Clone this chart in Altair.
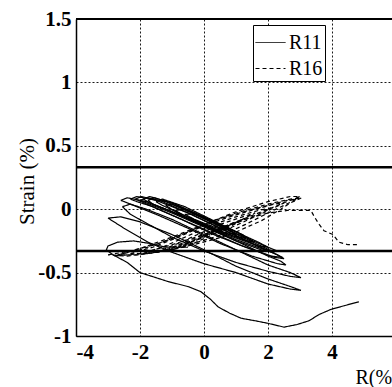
import altair as alt
import pandas as pd

# ---------------- data ----------------
x_ticks = [-4, -2, 0, 2, 4, 6]
y_ticks = [-1, -0.5, 0, 0.5, 1, 1.5]
limit_lines = [0.33, -0.33]
top_frame = [1.5]

# R11 (solid) loops: left tip -> upper edge -> right tip -> lower edge -> left tip
r11_b = [(-0.6, -0.04), (-0.3, -0.04), (0.3, -0.10), (0.7, -0.17), (0.3, -0.14), (-0.3, -0.08), (-0.6, -0.04)]
r11_c = [(-0.9, -0.01), (-0.6, 0.00), (0.0, -0.07), (0.7, -0.15), (1.0, -0.20), (0.6, -0.18), (-0.1, -0.11), (-0.7, -0.04), (-0.9, -0.01)]
r11_d = [(-1.2, 0.03), (-1.0, 0.04), (-0.3, -0.03), (0.5, -0.12), (1.1, -0.19), (1.3, -0.23), (0.9, -0.21), (0.1, -0.14), (-0.7, -0.05), (-1.2, 0.03)]
r11_e = [(-1.5, 0.06), (-1.3, 0.08), (-0.6, 0.02), (0.3, -0.09), (1.2, -0.20), (1.56, -0.26), (1.2, -0.24), (0.3, -0.15), (-0.6, -0.05), (-1.3, 0.03), (-1.5, 0.06)]
r11_f = [(-1.75, 0.07), (-1.55, 0.09), (-0.9, 0.04), (0.0, -0.06), (1.0, -0.18), (1.7, -0.26), (2.0, -0.30), (1.7, -0.29), (0.8, -0.21), (-0.2, -0.11), (-1.1, -0.01), (-1.6, 0.04), (-1.75, 0.07)]
r11_f2 = [(-1.9, 0.08), (-1.7, 0.10), (-1.0, 0.05), (0.0, -0.07), (1.0, -0.19), (1.9, -0.29), (2.3, -0.33), (1.9, -0.32), (1.0, -0.24), (0.0, -0.13), (-1.0, -0.02), (-1.7, 0.05), (-1.9, 0.08)]
r11_g = [(-2.0, 0.07), (-1.8, 0.09), (-1.2, 0.06), (-0.3, -0.04), (0.7, -0.16), (1.7, -0.28), (2.2, -0.34), (1.9, -0.33), (1.0, -0.25), (0.0, -0.14), (-1.0, -0.03), (-1.7, 0.04), (-2.0, 0.07)]
r11_g2 = [(-2.15, 0.08), (-1.95, 0.10), (-1.3, 0.06), (-0.4, -0.04), (0.6, -0.16), (1.6, -0.28), (2.2, -0.35), (2.45, -0.38), (2.1, -0.37), (1.2, -0.29), (0.2, -0.18), (-0.8, -0.07), (-1.7, 0.03), (-2.15, 0.08)]
r11_h = [(-2.3, 0.08), (-2.1, 0.10), (-1.5, 0.07), (-0.5, -0.03), (0.5, -0.15), (1.5, -0.27), (2.3, -0.36), (2.5, -0.39), (2.2, -0.38), (1.3, -0.30), (0.3, -0.20), (-0.7, -0.08), (-1.6, 0.02), (-2.1, 0.06), (-2.3, 0.08)]
r11_i = [(-2.6, 0.07), (-2.4, 0.09), (-1.8, 0.06), (-1.0, -0.02), (0.0, -0.13), (1.0, -0.25), (2.0, -0.37), (2.4, -0.41), (2.56, -0.44), (2.3, -0.43), (1.5, -0.37), (0.5, -0.27), (-0.5, -0.15), (-1.5, -0.04), (-2.2, 0.03), (-2.6, 0.07)]
r11_j = [(-2.55, 0.02), (-2.3, 0.04), (-1.8, 0.00), (-1.0, -0.08), (0.0, -0.20), (1.0, -0.32), (2.0, -0.44), (2.7, -0.50), (3.03, -0.54), (2.7, -0.53), (2.0, -0.49), (1.0, -0.42), (0.0, -0.33), (-1.0, -0.22), (-1.8, -0.11), (-2.3, -0.04), (-2.55, 0.02)]
r11_k = [(-3.0, -0.07), (-2.6, -0.06), (-2.0, -0.10), (-1.0, -0.20), (0.0, -0.32), (1.0, -0.45), (2.0, -0.55), (2.7, -0.61), (3.03, -0.64), (2.7, -0.63), (2.0, -0.59), (1.0, -0.50), (0.0, -0.43), (-1.0, -0.34), (-1.75, -0.26), (-2.5, -0.15), (-3.0, -0.07)]
r11_end = [(-0.5, -0.30), (-1.2, -0.30), (-1.7, -0.27), (-2.2, -0.25), (-2.7, -0.26), (-3.0, -0.29), (-3.05, -0.32),
           (-2.95, -0.34), (-2.84, -0.36), (-2.4, -0.42), (-2.0, -0.50), (-1.5, -0.54), (-1.13, -0.57), (-0.5, -0.61),
           (-0.1, -0.65), (0.2, -0.71), (0.44, -0.77), (0.8, -0.82), (1.16, -0.86), (1.6, -0.88), (2.0, -0.90),
           (2.5, -0.93), (2.9, -0.91), (3.28, -0.88), (3.6, -0.83), (3.97, -0.79), (4.4, -0.76), (4.84, -0.73)]

# R16 (dashed) loops
r16_p = [(-1.0, -0.32), (-0.5, -0.27), (0.2, -0.19), (0.8, -0.12), (1.1, -0.10), (0.7, -0.15), (0.1, -0.22), (-0.5, -0.29), (-1.0, -0.32)]
r16_q = [(-1.5, -0.34), (-0.9, -0.28), (-0.2, -0.20), (0.5, -0.12), (1.2, -0.06), (1.6, -0.03), (1.2, -0.08), (0.5, -0.16), (-0.2, -0.24), (-0.9, -0.31), (-1.5, -0.34)]
r16_r = [(-1.9, -0.35), (-1.3, -0.30), (-0.5, -0.21), (0.3, -0.12), (1.0, -0.06), (1.7, -0.01), (2.1, 0.01), (1.7, -0.04), (1.0, -0.11), (0.3, -0.18), (-0.5, -0.26), (-1.3, -0.33), (-1.9, -0.35)]
r16_s = [(-2.3, -0.35), (-1.6, -0.30), (-0.8, -0.22), (0.0, -0.13), (0.8, -0.06), (1.6, 0.00), (2.2, 0.04), (2.5, 0.05), (2.1, 0.00), (1.5, -0.07), (0.8, -0.15), (0.0, -0.22), (-0.9, -0.30), (-1.7, -0.35), (-2.3, -0.35)]
r16_t = [(-2.7, -0.36), (-2.0, -0.32), (-1.2, -0.25), (-0.4, -0.17), (0.3, -0.09), (1.1, -0.03), (2.0, 0.03), (2.6, 0.07), (2.9, 0.08), (2.5, 0.03), (2.0, -0.03), (1.3, -0.12), (0.6, -0.20), (-0.2, -0.26), (-1.2, -0.33), (-2.1, -0.36), (-2.7, -0.36)]
r16_v = [(-2.8, -0.37), (-2.0, -0.31), (-1.0, -0.22), (0.0, -0.12), (1.0, -0.02), (2.0, 0.06), (2.7, 0.10), (3.0, 0.10), (2.6, 0.06), (2.0, 0.00), (1.0, -0.10), (0.0, -0.20), (-1.0, -0.28), (-2.0, -0.35), (-2.8, -0.37)]
r16_u = [(-3.0, -0.36), (-2.3, -0.33), (-1.4, -0.27), (-0.5, -0.18), (0.2, -0.10), (1.0, -0.03), (2.0, 0.04), (2.7, 0.08), (3.05, 0.09), (2.7, 0.05), (2.4, 0.00), (1.8, -0.09), (1.0, -0.18), (0.3, -0.24), (-0.5, -0.29), (-1.5, -0.34), (-2.4, -0.37), (-3.0, -0.36)]
r16_end = [(-1.0, -0.30), (0.0, -0.20), (1.0, -0.10), (2.0, -0.03), (2.6, -0.01), (3.0, -0.01), (3.34, -0.01), (3.45, -0.06),
           (3.6, -0.12), (3.75, -0.17), (4.03, -0.20), (4.22, -0.26), (4.5, -0.28), (4.84, -0.28)]

series_loops = {
    "R11": [r11_b, r11_c, r11_d, r11_e, r11_f, r11_f2, r11_g, r11_g2, r11_h, r11_i, r11_j, r11_k, r11_end],
    "R16": [r16_p, r16_q, r16_r, r16_s, r16_t, r16_v, r16_u, r16_end],
}

rows = []
for name, loops in series_loops.items():
    for li, loop in enumerate(loops):
        for pi, (xv, yv) in enumerate(loop):
            rows.append({"series": name, "seg": f"{name}-{li}", "idx": pi, "x": xv, "y": yv})
df = pd.DataFrame(rows)

SERIF = "Liberation Serif"

x_scale = alt.Scale(domain=[-4, 5.875], nice=False, zero=False)
y_scale = alt.Scale(domain=[-1, 1.5], nice=False, zero=False)

lines = alt.Chart(df).mark_line(strokeWidth=1.2, color="black").encode(
    x=alt.X("x:Q", scale=x_scale,
            axis=alt.Axis(values=x_ticks, title="R(%)", labelExpr="'' + datum.value",
                          titleX=279, titleY=41, titleAlign="left", titleBaseline="middle",
                          titleAnchor="start")),
    y=alt.Y("y:Q", scale=y_scale,
            axis=alt.Axis(values=y_ticks, title="Strain (%)", labelExpr="'' + datum.value",
                          titleX=-49, titleY=162, titleAngle=-90, titleAlign="center",
                          titleBaseline="middle")),
    strokeDash=alt.StrokeDash(
        "series:N",
        scale=alt.Scale(domain=["R11", "R16"], range=[[1, 0], [4, 3]]),
        legend=alt.Legend(title=None, orient="none", legendX=177, legendY=6,
                          strokeColor="black", fillColor="white", padding=2,
                          symbolType="stroke", symbolSize=900, symbolStrokeWidth=1,
                          symbolStrokeColor="black", labelFont=SERIF, labelFontSize=20,
                          labelColor="black", rowPadding=-14, labelOffset=3),
    ),
    detail="seg:N",
    order="idx:Q",
)

limits = alt.Chart(pd.DataFrame({"y": limit_lines})).mark_rule(
    color="black", strokeWidth=2.5).encode(y=alt.Y("y:Q", scale=y_scale))

top = alt.Chart(pd.DataFrame({"y": top_frame})).mark_rule(
    color="black", strokeWidth=2).encode(y=alt.Y("y:Q", scale=y_scale))

chart = alt.layer(lines, limits, top).properties(
    width=316, height=317,
    autosize=alt.AutoSizeParams(type="none"),
    padding={"left": 76, "top": 19, "right": 0, "bottom": 51},
    background="white",
).configure_view(stroke=None).configure_axis(
    grid=True, gridColor="black", gridDash=[2, 2], gridWidth=1, gridOpacity=0.9,
    domainColor="black", domainWidth=1.5, ticks=False,
    labelFont=SERIF, labelFontSize=21, labelFontWeight="bold", labelColor="black",
    labelPadding=5, titleFont=SERIF, titleFontSize=21, titleFontWeight="normal",
    titleColor="black",
).configure_axisX(labelPadding=5, titleFontSize=20)

chart.save("out.html", embed_options={"renderer": "svg", "actions": False})
